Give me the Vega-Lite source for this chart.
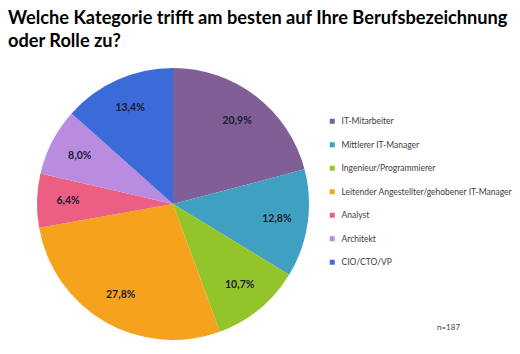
{
  "$schema": "https://vega.github.io/schema/vega-lite/v6.json",
  "width": 330,
  "height": 272,
  "padding": {"left": 8, "top": 8, "right": 0, "bottom": 0},
  "background": "white",
  "config": {"view": {"stroke": null}, "font": "Lato"},
  "title": {
    "text": ["Welche Kategorie trifft am besten auf Ihre Berufsbezeichnung", "oder Rolle zu?"],
    "anchor": "start",
    "frame": "group",
    "font": "Lato",
    "fontSize": 18.2,
    "fontWeight": "bold",
    "color": "#000000",
    "lineHeight": 23,
    "offset": 17
  },
  "data": {
    "values": [
      {"kategorie": "IT-Mitarbeiter", "anteil": 20.9, "label": "20,9%", "ord": 1},
      {"kategorie": "Mittlerer IT-Manager", "anteil": 12.8, "label": "12,8%", "ord": 2},
      {"kategorie": "Ingenieur/Programmierer", "anteil": 10.7, "label": "10,7%", "ord": 3},
      {"kategorie": "Leitender Angestellter/gehobener IT-Manager", "anteil": 27.8, "label": "27,8%", "ord": 4},
      {"kategorie": "Analyst", "anteil": 6.4, "label": "6,4%", "ord": 5},
      {"kategorie": "Architekt", "anteil": 8.0, "label": "8,0%", "ord": 6},
      {"kategorie": "CIO/CTO/VP", "anteil": 13.4, "label": "13,4%", "ord": 7}
    ]
  },
  "encoding": {
    "theta": {"field": "anteil", "type": "quantitative", "stack": true},
    "order": {"field": "ord", "type": "quantitative"}
  },
  "layer": [
    {
      "mark": {"type": "arc", "outerRadius": 136},
      "encoding": {
        "color": {
          "field": "kategorie",
          "type": "nominal",
          "sort": ["IT-Mitarbeiter", "Mittlerer IT-Manager", "Ingenieur/Programmierer", "Leitender Angestellter/gehobener IT-Manager", "Analyst", "Architekt", "CIO/CTO/VP"],
          "scale": {
            "domain": ["IT-Mitarbeiter", "Mittlerer IT-Manager", "Ingenieur/Programmierer", "Leitender Angestellter/gehobener IT-Manager", "Analyst", "Architekt", "CIO/CTO/VP"],
            "range": ["#7f5f96", "#40a0c2", "#93c52b", "#f5a31c", "#ec5f82", "#b98ce0", "#3b6bd8"]
          },
          "legend": {
            "title": null,
            "orient": "none",
            "legendX": 320,
            "legendY": 49,
            "symbolType": "square",
            "symbolSize": 25,
            "symbolStrokeWidth": 0,
            "labelFont": "Lato",
            "labelFontSize": 8.5,
            "labelColor": "#404040",
            "labelLimit": 260,
            "rowPadding": 14.5,
            "labelOffset": 5
          }
        }
      }
    },
    {
      "mark": {"type": "text", "radius": 105, "font": "Lato", "fontSize": 10.5, "fontWeight": "bold", "color": "#1a1a30"},
      "encoding": {
        "text": {"field": "label", "type": "nominal"}
      }
    },
    {
      "data": {"values": [{"note": "n=187"}]},
      "mark": {"type": "text", "font": "Lato", "fontSize": 8, "color": "#404040", "align": "left", "baseline": "middle"},
      "encoding": {
        "theta": null,
        "order": null,
        "text": {"field": "note", "type": "nominal"},
        "x": {"value": 429},
        "y": {"value": 260}
      }
    }
  ]
}
